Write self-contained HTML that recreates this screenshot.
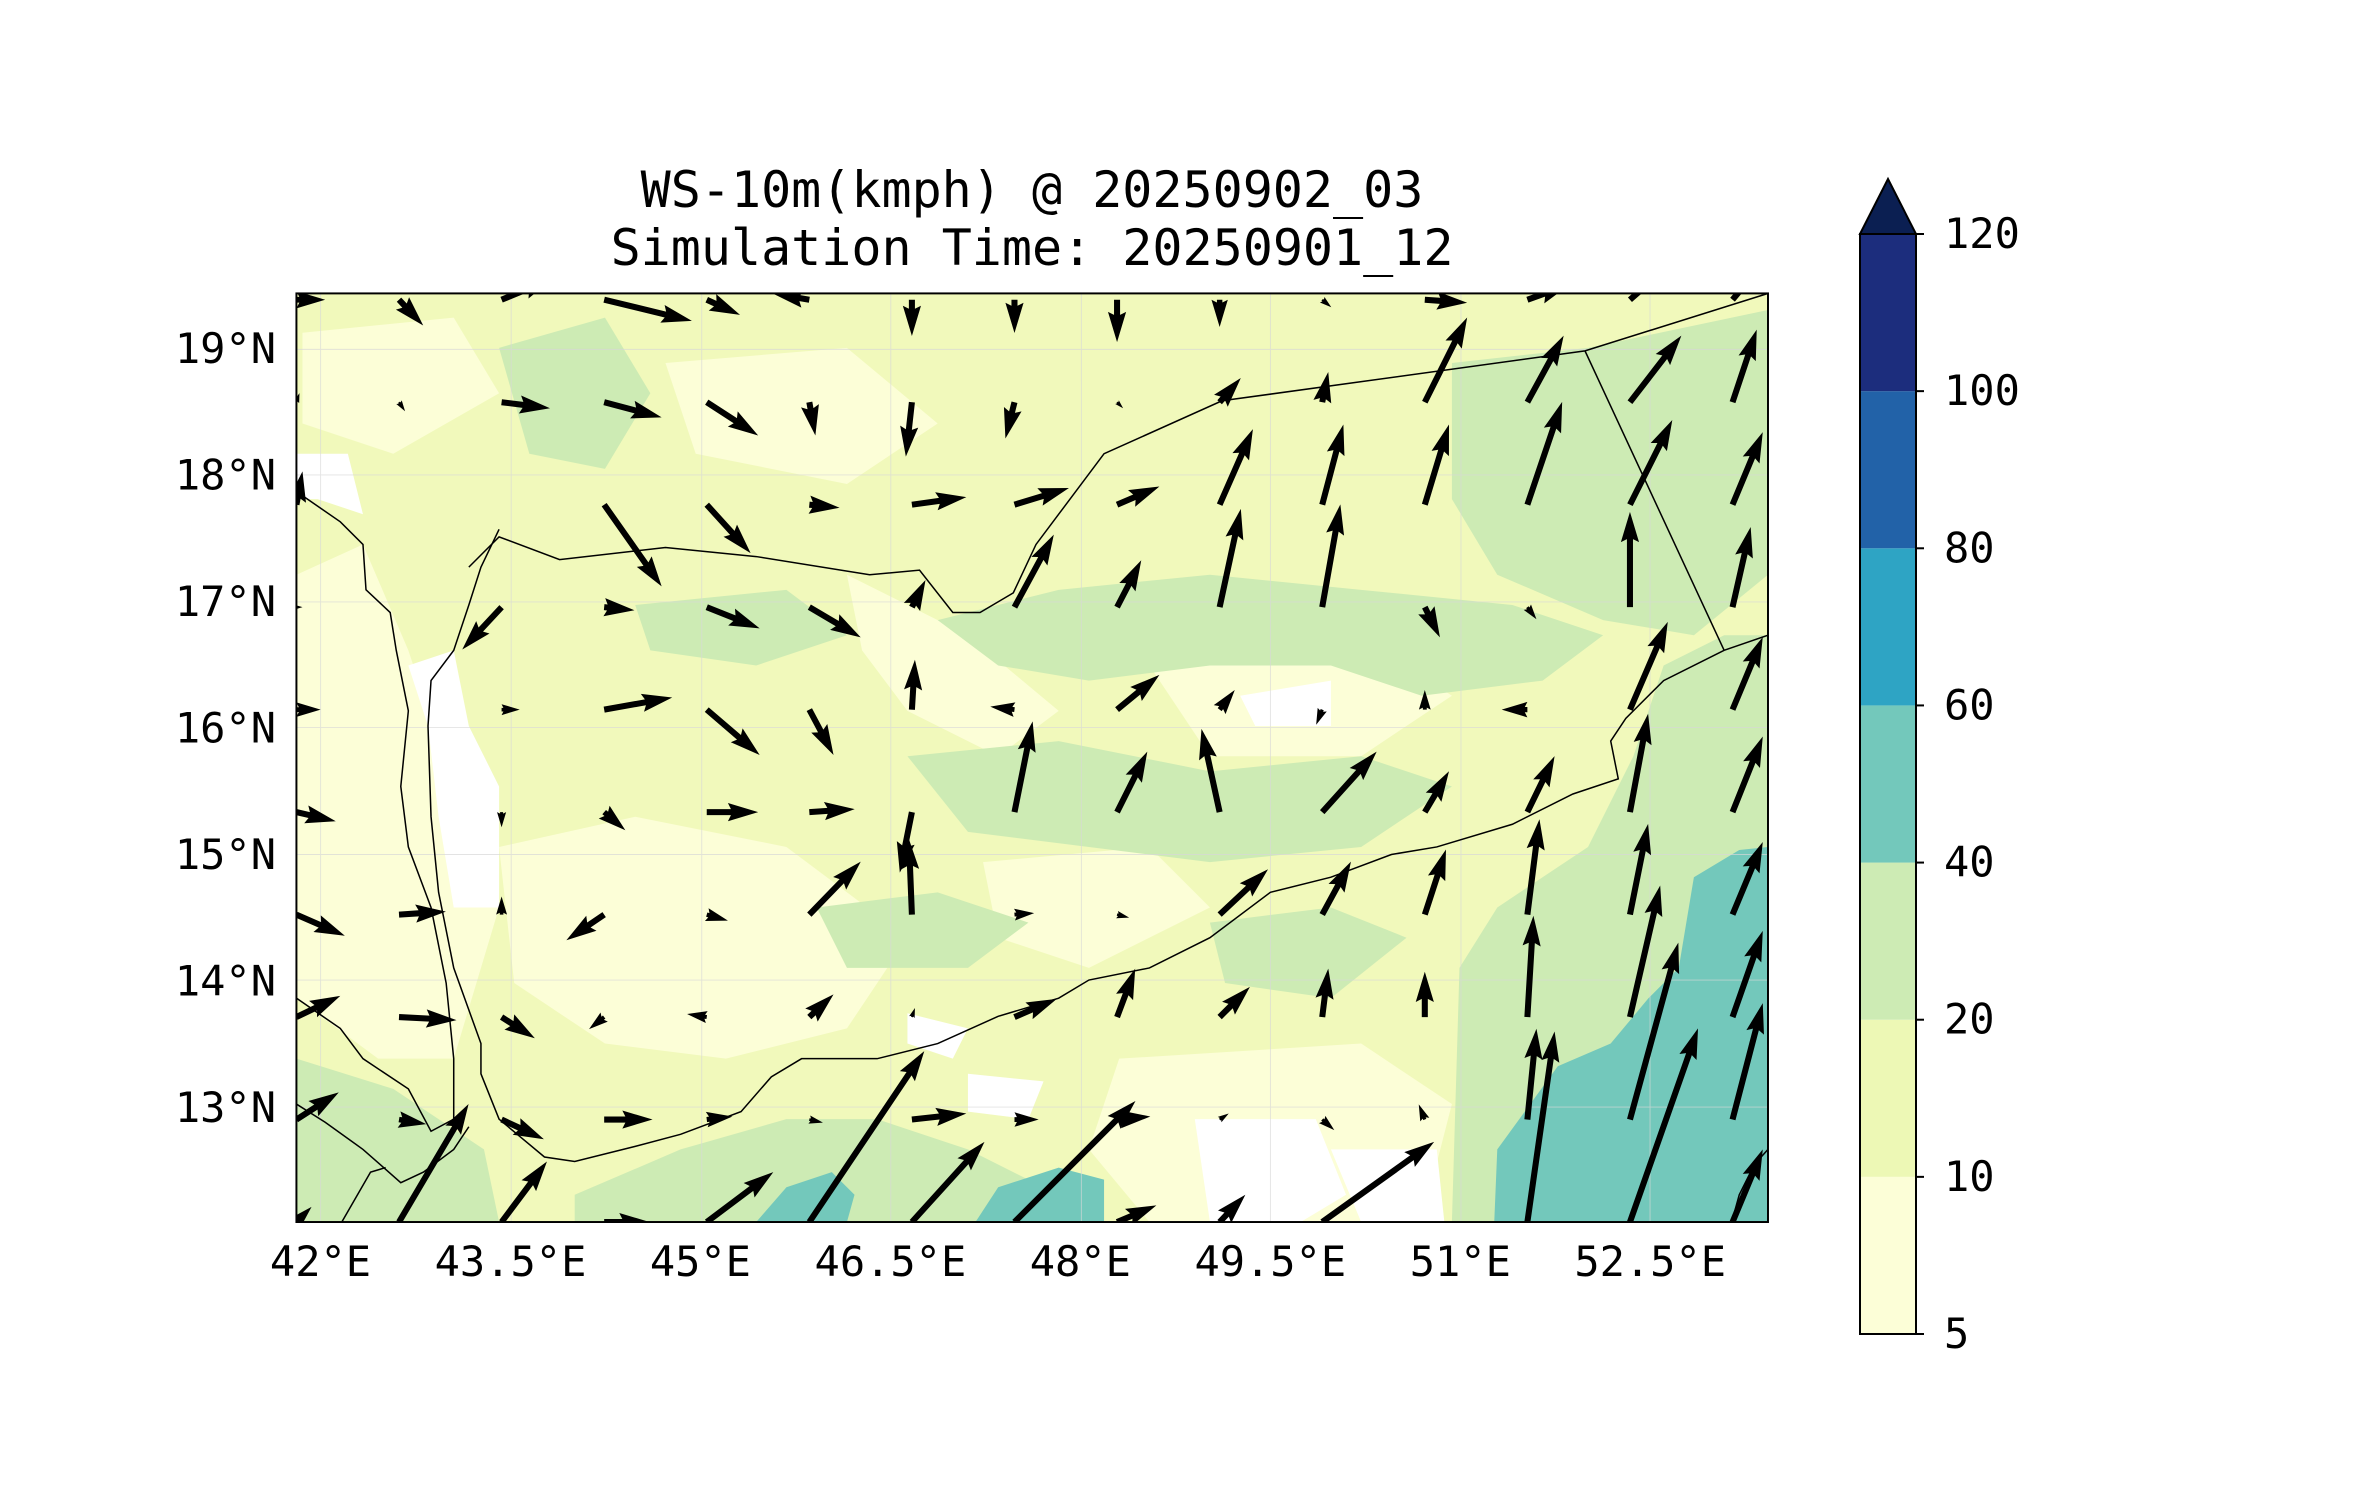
<!DOCTYPE html>
<html><head><meta charset="utf-8">
<style>
html,body{margin:0;padding:0;background:#fff;}
svg{display:block;}
text{font-family:"DejaVu Sans Mono","Liberation Mono",monospace;fill:#000;}
</style></head>
<body>
<svg id="fig" width="2371" height="1500" viewBox="0 0 2371 1500" xmlns="http://www.w3.org/2000/svg">
  <rect width="2371" height="1500" fill="#fff"/>
  <text x="1032" y="207" font-size="50" text-anchor="middle">WS-10m(kmph) @ 20250902_03</text>
  <text x="1032" y="265" font-size="50" text-anchor="middle">Simulation Time: 20250901_12</text>
  <defs>
    <clipPath id="mapclip"><rect x="196" y="194" width="973" height="614"/></clipPath>
  </defs>
  <g id="map" transform="scale(1.5124)">
    <g clip-path="url(#mapclip)">
      <rect x="196" y="194" width="973" height="614" fill="#f1f9bb"/>
      <g>
        <path fill="#fcfed7" d="M196 380 L240 360 L270 430 L300 520 L330 600 L300 700 L250 700 L196 660 Z"/>
        <path fill="#fcfed7" d="M330 560 L420 540 L520 560 L600 620 L560 680 L480 700 L400 690 L340 650 Z"/>
        <path fill="#fcfed7" d="M560 380 L640 420 L700 470 L660 500 L600 470 L570 430 Z"/>
        <path fill="#fcfed7" d="M760 440 L900 420 L960 460 L900 500 L800 500 Z"/>
        <path fill="#fcfed7" d="M650 570 L760 560 L800 600 L720 640 L660 620 Z"/>
        <path fill="#fcfed7" d="M740 700 L900 690 L960 730 L940 808 L760 808 L720 760 Z"/>
        <path fill="#fcfed7" d="M200 220 L300 210 L330 260 L260 300 L200 280 Z"/>
        <path fill="#fcfed7" d="M440 240 L560 230 L620 280 L560 320 L460 300 Z"/>
        <path fill="#cdebb4" d="M960 808 L965 640 L990 600 L1050 560 L1080 500 L1100 440 L1140 420 L1169 420 L1169 808 Z"/>
        <path fill="#cdebb4" d="M960 240 L1050 230 L1169 205 L1169 380 L1120 420 L1060 410 L990 380 L960 330 Z"/>
        <path fill="#cdebb4" d="M620 410 L700 390 L800 380 L900 390 L1000 400 L1060 420 L1020 450 L940 460 L880 440 L800 440 L720 450 L660 440 Z"/>
        <path fill="#cdebb4" d="M600 500 L700 490 L800 510 L900 500 L960 520 L900 560 L800 570 L720 560 L640 550 Z"/>
        <path fill="#cdebb4" d="M540 600 L620 590 L680 610 L640 640 L560 640 Z"/>
        <path fill="#cdebb4" d="M800 610 L880 600 L930 620 L880 660 L810 650 Z"/>
        <path fill="#cdebb4" d="M330 230 L400 210 L430 260 L400 310 L350 300 Z"/>
        <path fill="#cdebb4" d="M420 400 L520 390 L560 420 L500 440 L430 430 Z"/>
        <path fill="#cdebb4" d="M196 700 L260 720 L320 760 L330 808 L196 808 Z"/>
        <path fill="#cdebb4" d="M380 790 L450 760 L520 740 L580 740 L640 760 L700 790 L720 808 L380 808 Z"/>
        <path fill="#ffffff" d="M196 300 L230 300 L240 340 L210 330 L196 330 Z"/>
        <path fill="#ffffff" d="M270 440 L300 430 L310 480 L330 520 L330 600 L300 600 L290 540 L283 480 Z"/>
        <path fill="#ffffff" d="M600 670 L640 680 L630 700 L600 690 Z"/>
        <path fill="#ffffff" d="M790 740 L870 740 L890 790 L860 808 L800 808 Z"/>
        <path fill="#ffffff" d="M880 760 L950 760 L955 808 L900 808 Z"/>
        <path fill="#ffffff" d="M640 710 L690 715 L680 740 L640 735 Z"/>
        <path fill="#ffffff" d="M820 460 L880 450 L880 480 L830 480 Z"/>
        <path fill="#73c8bb" d="M988 808 L990 760 L1030 705 L1065 690 L1090 660 L1110 640 L1120 580 L1150 562 L1169 560 L1169 808 Z"/>
        <path fill="#73c8bb" d="M500 808 L520 785 L550 775 L565 790 L560 808 Z"/>
        <path fill="#73c8bb" d="M645 808 L660 785 L700 772 L730 780 L730 808 Z"/>
      </g>
      <g stroke="#d8d8d8" stroke-width="0.6" opacity="0.7">
        <line x1="212" y1="194" x2="212" y2="808"/><line x1="338" y1="194" x2="338" y2="808"/>
        <line x1="464" y1="194" x2="464" y2="808"/><line x1="589" y1="194" x2="589" y2="808"/>
        <line x1="715" y1="194" x2="715" y2="808"/><line x1="840" y1="194" x2="840" y2="808"/>
        <line x1="966" y1="194" x2="966" y2="808"/><line x1="1091" y1="194" x2="1091" y2="808"/>
        <line x1="196" y1="231" x2="1169" y2="231"/><line x1="196" y1="314" x2="1169" y2="314"/>
        <line x1="196" y1="398" x2="1169" y2="398"/><line x1="196" y1="481" x2="1169" y2="481"/>
        <line x1="196" y1="565" x2="1169" y2="565"/><line x1="196" y1="648" x2="1169" y2="648"/>
        <line x1="196" y1="732" x2="1169" y2="732"/>
      </g>
      <g fill="none" stroke="#000" stroke-width="1">
        <polyline points="310,375 330,355 370,370 440,362 500,368 575,380 608,377 630,405 648,405 670,392 685,360 700,340 730,300 808,265 1048,232 1169,194"/>
        <polyline points="1048,232 1140,430"/>
        <polyline points="1169,420 1140,430 1100,450 1075,475 1065,490 1070,515 1040,525 1000,545 950,560 920,565 880,580 840,590 800,620 760,640 720,648 700,660 660,672 620,690 580,700 530,700 510,712 490,735 450,750 420,758 380,768 360,765 330,740 318,710 318,690 300,640 290,590 285,540 283,480 285,450 300,430 310,400 318,375 330,350"/>
        <polyline points="196,325 225,345 240,360 242,390 258,405 262,430 270,470 265,520 270,560 285,600 295,650 300,700 300,740 285,748 270,720 240,700 225,680 196,660"/>
        <polyline points="196,730 215,742 240,760 265,782 280,775 300,760 310,745"/>
        <polyline points="226,808 245,775 255,772"/>
        <polyline points="1169,760 1160,770 1150,790 1145,808"/>
      </g>
      <g id="arrows"></g>
    </g>
    <rect x="196" y="194" width="973" height="614" fill="none" stroke="#000" stroke-width="1.3"/>
  </g>
  <g id="axes"></g>
  <g id="cbar"></g>
</svg>
<script>
const lonStart = 41.81, latStart = 12.1, gridStep = 0.81;
const uRows = [
 [10,46,30,30,44,76,48,80,26,17,74,0,18,45,20],
 [28,18,28,32,17,9,36,16,22,6,8,-4,6,32,20],
 [29,38,22,-10,-13,16,2,28,12,20,4,0,4,20,20],
 [32,31,0,-25,14,34,-2,13,8,32,19,14,8,12,20],
 [26,0,0,14,34,30,-8,12,20,-12,36,16,18,12,20],
 [16,0,12,45,35,16,2,-16,28,10,-4,0,-17,25,20],
 [4,0,-26,20,35,34,9,26,16,14,12,10,6,0,12],
 [4,0,0,38,29,20,36,36,28,22,14,16,23,28,20],
 [2,4,32,38,34,4,-4,-6,4,14,4,28,24,34,16],
 [19,16,34,58,22,-24,0,0,0,0,6,28,28,32,20]
];
const vRows = [
 [10,78,40,0,33,113,53,80,11,18,53,0,126,128,48],
 [18,-3,-13,0,2,-2,4,0,2,4,-7,10,60,117,77],
 [14,-2,-14,-8,2,15,6,12,32,20,32,30,67,87,57],
 [-14,2,12,-17,-4,35,50,1,-2,30,35,43,63,60,48],
 [-6,0,-10,-12,0,2,-40,60,40,55,40,27,37,65,50],
 [0,0,0,8,-30,-30,33,2,23,13,-10,13,0,58,48],
 [0,0,-28,-2,-14,-20,18,48,31,65,68,-20,-8,63,53],
 [22,0,0,-54,-32,-2,5,11,12,50,53,53,68,56,48],
 [6,-6,-4,-10,-22,-22,-36,-24,-4,16,20,56,44,44,48],
 [0,-17,14,-14,-10,4,-24,-22,-28,-18,-5,-2,10,28,24]
];
const lonTicks = [42,43.5,45,46.5,48,49.5,51,52.5];
const lonLabels = ["42°E","43.5°E","45°E","46.5°E","48°E","49.5°E","51°E","52.5°E"];
const latTicks = [13,14,15,16,17,18,19];
const latLabels = ["13°N","14°N","15°N","16°N","17°N","18°N","19°N"];
const cbLevels = [5,10,20,40,60,80,100,120];
const cbLabels = ["5","10","20","40","60","80","100","120"];
const cbColors = ["#fcfed7","#edf8b5","#cdebb4","#73c8bb","#2ea4c4","#2262a8","#1c2d7d"];
const cbExtendColor = "#0b1f52";

const NS = "http://www.w3.org/2000/svg";
const S = 1.5124;
const x0 = 196, x1 = 1169, y0 = 194, y1 = 808;
const lonMin = 41.81, lonMax = 53.43, latMin = 12.1, latMax = 19.44;
function xLon(lon){ return x0 + (lon - lonMin) / (lonMax - lonMin) * (x1 - x0); }
function yLat(lat){ return y1 - (lat - latMin) / (latMax - latMin) * (y1 - y0); }
const uScale = 1, vScale = 1;

function mk(tag, attrs, parent){
  const e = document.createElementNS(NS, tag);
  for (const k in attrs) e.setAttribute(k, attrs[k]);
  parent.appendChild(e);
  return e;
}

const ag = document.getElementById('arrows');
for (let j = 0; j < uRows.length; j++){
  for (let i = 0; i < uRows[j].length; i++){
    const u = uRows[j][i] * uScale, v = vRows[j][i] * vScale;
    const L = Math.hypot(u, v);
    if (L < 1) continue;
    const tx = xLon(lonStart + i * gridStep), ty = yLat(latStart + j * gridStep);
    const ang = Math.atan2(-v, u);
    const w = 2.0;
    let hl = 5 * 2 * w, hal = 4.5 * 2 * w, hw = 3 * w;
    let f = 1;
    if (L < hl) { f = L / hl; }
    hl *= f; hal *= f; hw *= f; const sw = w * f;
    const pts = [[0,-sw],[L-hal,-sw],[L-hl,-hw],[L,0],[L-hl,hw],[L-hal,sw],[0,sw]];
    const ca = Math.cos(ang), sa = Math.sin(ang);
    const p = pts.map(q => (tx + q[0]*ca - q[1]*sa).toFixed(2) + "," + (ty + q[0]*sa + q[1]*ca).toFixed(2)).join(" ");
    const el = mk('polygon', {points: p, fill: '#000'}, ag);
    
    
  }
}

const ax = document.getElementById('axes');
lonTicks.forEach((lon, k) => {
  const t = mk('text', {x: (xLon(lon) * S).toFixed(1), y: 1276, 'font-size': 42, 'text-anchor': 'middle'}, ax);
  t.textContent = lonLabels[k];
  
  
});
latTicks.forEach((lat, k) => {
  const t = mk('text', {x: 276, y: (yLat(lat) * S + 14).toFixed(1), 'font-size': 42, 'text-anchor': 'end'}, ax);
  t.textContent = latLabels[k];
  
  
});

const cb = document.getElementById('cbar');
const cbx = 1860, cbw = 56, cbTop = 234, cbBot = 1334;
function yCb(idx){ return cbBot - idx / (cbLevels.length - 1) * (cbBot - cbTop); }
for (let k = 0; k < cbColors.length; k++){
  const r = mk('rect', {x: cbx, y: yCb(k+1), width: cbw, height: yCb(k) - yCb(k+1), fill: cbColors[k]}, cb);
  
  
}
const tri = mk('polygon', {points: `${cbx},${cbTop} ${cbx+cbw/2},179 ${cbx+cbw},${cbTop}`, fill: cbExtendColor, stroke: '#000', 'stroke-width': 2}, cb);


const frame = mk('rect', {x: cbx, y: cbTop, width: cbw, height: cbBot - cbTop, fill: 'none', stroke: '#000', 'stroke-width': 2}, cb);


cbLevels.forEach((lv, k) => {
  const y = yCb(k);
  const tk = mk('line', {x1: cbx + cbw, y1: y, x2: cbx + cbw + 8, y2: y, stroke: '#000', 'stroke-width': 2}, cb);
  
  
  const t = mk('text', {x: 1944, y: y + 14, 'font-size': 42}, cb);
  t.textContent = cbLabels[k];
  
  
});
</script>
</body></html>
